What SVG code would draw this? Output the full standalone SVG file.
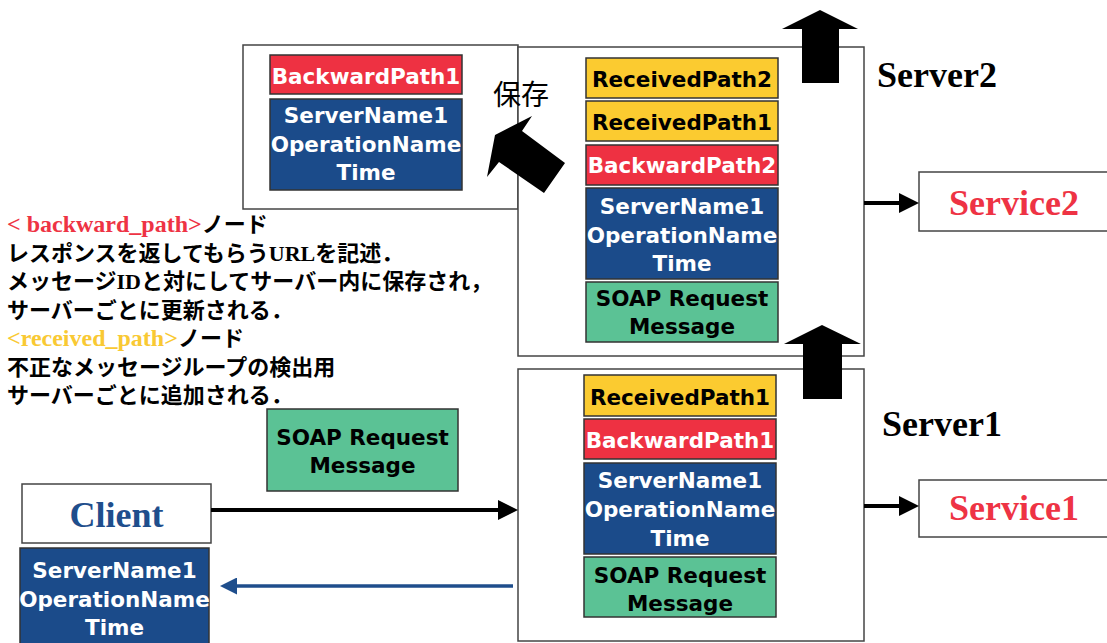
<svg xmlns="http://www.w3.org/2000/svg" width="1107" height="643" viewBox="0 0 1107 643">
  <style>
    .frame { fill: #ffffff; stroke: #444444; stroke-width: 1.5; }
    .cell { stroke: #333333; stroke-width: 1.5; }
    .yel { fill: #FBCB30; }
    .red { fill: #EE3142; }
    .blu { fill: #1B4B8A; }
    .grn { fill: #5BC295; }
    .lbl { font-family: "DejaVu Sans", Verdana, sans-serif; font-weight: bold; font-size: 21.5px; text-anchor: middle; }
    .wt { fill: #ffffff; }
    .bk { fill: #000000; }
    .title { font-family: "Liberation Serif", "Times New Roman", serif; font-weight: bold; font-size: 36px; }
    .note { font-family: "Noto Sans CJK JP", sans-serif; font-weight: bold; font-size: 22px; fill: #000000; }
    .tr { font-family: "Liberation Serif", "Times New Roman", serif; font-weight: bold; }
    .tag { font-size: 24px; }
    .lat { font-size: 22px; }
    .tagred { fill: #EE3344; }
    .tagyel { fill: #F9C933; }
    .block { fill: #000000; }
    .wire { fill: none; stroke: #000000; stroke-width: 4; }
    .wire-blue { fill: none; stroke: #1F4E8C; stroke-width: 3.5; }
  </style>
  <defs>
    <marker id="head" markerUnits="userSpaceOnUse" markerWidth="20" markerHeight="20" refX="2" refY="10" orient="auto">
      <path d="M0,0 L20,10 L0,20 Z" fill="#000000"/>
    </marker>
    <marker id="head-blue" markerUnits="userSpaceOnUse" markerWidth="17" markerHeight="17" refX="2" refY="8.5" orient="auto">
      <path d="M0,0 L17,8.5 L0,17 Z" fill="#1F4E8C"/>
    </marker>
  </defs>

  <rect width="1107" height="643" fill="#ffffff"/>

  <!-- stored copy of the backward path -->
  <g id="store">
    <rect class="frame" x="243" y="45" width="275" height="164"/>
    <rect class="cell red" x="270" y="55" width="192" height="39"/>
    <text class="lbl wt" x="366" y="84">BackwardPath1</text>
    <rect class="cell blu" x="270" y="99" width="192" height="91"/>
    <text class="lbl wt" x="366" y="123">ServerName1</text>
    <text class="lbl wt" x="366" y="152">OperationName</text>
    <text class="lbl wt" x="366" y="180">Time</text>
  </g>

  <!-- Server2 -->
  <g id="server2">
    <rect class="frame" x="518" y="47" width="346" height="309"/>
    <rect class="cell yel" x="586" y="58" width="192" height="40"/>
    <text class="lbl bk" x="682" y="87">ReceivedPath2</text>
    <rect class="cell yel" x="586" y="101" width="192" height="40"/>
    <text class="lbl bk" x="682" y="130">ReceivedPath1</text>
    <rect class="cell red" x="586" y="145" width="192" height="40"/>
    <text class="lbl wt" x="682" y="173">BackwardPath2</text>
    <rect class="cell blu" x="586" y="188" width="192" height="91"/>
    <text class="lbl wt" x="682" y="214">ServerName1</text>
    <text class="lbl wt" x="682" y="243">OperationName</text>
    <text class="lbl wt" x="682" y="271">Time</text>
    <rect class="cell grn" x="586" y="282" width="192" height="60"/>
    <text class="lbl bk" x="682" y="306">SOAP Request</text>
    <text class="lbl bk" x="682" y="334">Message</text>
    <text class="title" x="877" y="87">Server2</text>
  </g>

  <!-- Server1 -->
  <g id="server1">
    <rect class="frame" x="518" y="369" width="346" height="272"/>
    <rect class="cell yel" x="584" y="375" width="192" height="41"/>
    <text class="lbl bk" x="680" y="405">ReceivedPath1</text>
    <rect class="cell red" x="584" y="419" width="192" height="40"/>
    <text class="lbl wt" x="680" y="448">BackwardPath1</text>
    <rect class="cell blu" x="584" y="463" width="192" height="91"/>
    <text class="lbl wt" x="680" y="488">ServerName1</text>
    <text class="lbl wt" x="680" y="517">OperationName</text>
    <text class="lbl wt" x="680" y="546">Time</text>
    <rect class="cell grn" x="584" y="557" width="192" height="60"/>
    <text class="lbl bk" x="680" y="583">SOAP Request</text>
    <text class="lbl bk" x="680" y="611">Message</text>
    <text class="title" x="882" y="436">Server1</text>
  </g>

  <!-- Client and the returned record -->
  <g id="client">
    <rect class="frame" x="22" y="484" width="189" height="59"/>
    <text class="title" x="116.5" y="527" font-size="35" text-anchor="middle" fill="#1F4E8C">Client</text>
  </g>
  <g id="client-record">
    <rect class="cell blu" x="20" y="548" width="189" height="100"/>
    <text class="lbl wt" x="114.5" y="578">ServerName1</text>
    <text class="lbl wt" x="114.5" y="607">OperationName</text>
    <text class="lbl wt" x="114.5" y="635">Time</text>
  </g>

  <!-- message in transit -->
  <g id="request">
    <rect class="cell grn" x="267" y="409" width="191" height="82"/>
    <text class="lbl bk" x="362.5" y="445">SOAP Request</text>
    <text class="lbl bk" x="362.5" y="473">Message</text>
  </g>

  <!-- services -->
  <g id="service2">
    <rect class="frame" x="919" y="172" width="200" height="59"/>
    <text class="title tagred" x="1014" y="215" text-anchor="middle">Service2</text>
  </g>
  <g id="service1">
    <rect class="frame" x="919" y="480" width="200" height="57"/>
    <text class="title tagred" x="1014" y="520" text-anchor="middle">Service1</text>
  </g>

  <!-- explanation of the header nodes -->
  <g id="notes">
    <text class="note" y="232"><tspan x="7" class="tr tag tagred">&lt; backward_path&gt;</tspan><tspan>ノード</tspan></text>
    <text class="note" y="260.5"><tspan x="7">レスポンスを返してもらう</tspan><tspan class="tr lat">URL</tspan><tspan>を記述．</tspan></text>
    <text class="note" y="289"><tspan x="7">メッセージ</tspan><tspan class="tr lat">ID</tspan><tspan>と対にしてサーバー内に保存され，</tspan></text>
    <text class="note" y="317.5" x="7">サーバーごとに更新される．</text>
    <text class="note" y="346"><tspan x="7" class="tr tag tagyel">&lt;received_path&gt;</tspan><tspan>ノード</tspan></text>
    <text class="note" y="374.5" x="7">不正なメッセージループの検出用</text>
    <text class="note" y="403" x="7">サーバーごとに追加される．</text>
  </g>

  <text id="save-label" x="493" y="105" font-family="'Noto Sans CJK JP', sans-serif" font-size="28" fill="#000000">保存</text>

  <!-- connectors -->
  <g id="connectors">
    <polygon class="block" points="532,116 522,131 565,163 544,193 499,162 487,177 495,135"/>
    <polygon class="block" points="820,10 858,29 839,29 839,83 802,83 802,29 782,29"/>
    <polygon class="block" points="822,325 861,344 842,344 842,399 803,399 803,344 784,344"/>
    <line class="wire" x1="211" y1="510" x2="500" y2="510" marker-end="url(#head)"/>
    <line class="wire-blue" x1="513" y1="586" x2="235" y2="586" marker-end="url(#head-blue)"/>
    <line class="wire" x1="864" y1="203" x2="901" y2="203" marker-end="url(#head)"/>
    <line class="wire" x1="864" y1="506" x2="901" y2="506" marker-end="url(#head)"/>
  </g>
</svg>
